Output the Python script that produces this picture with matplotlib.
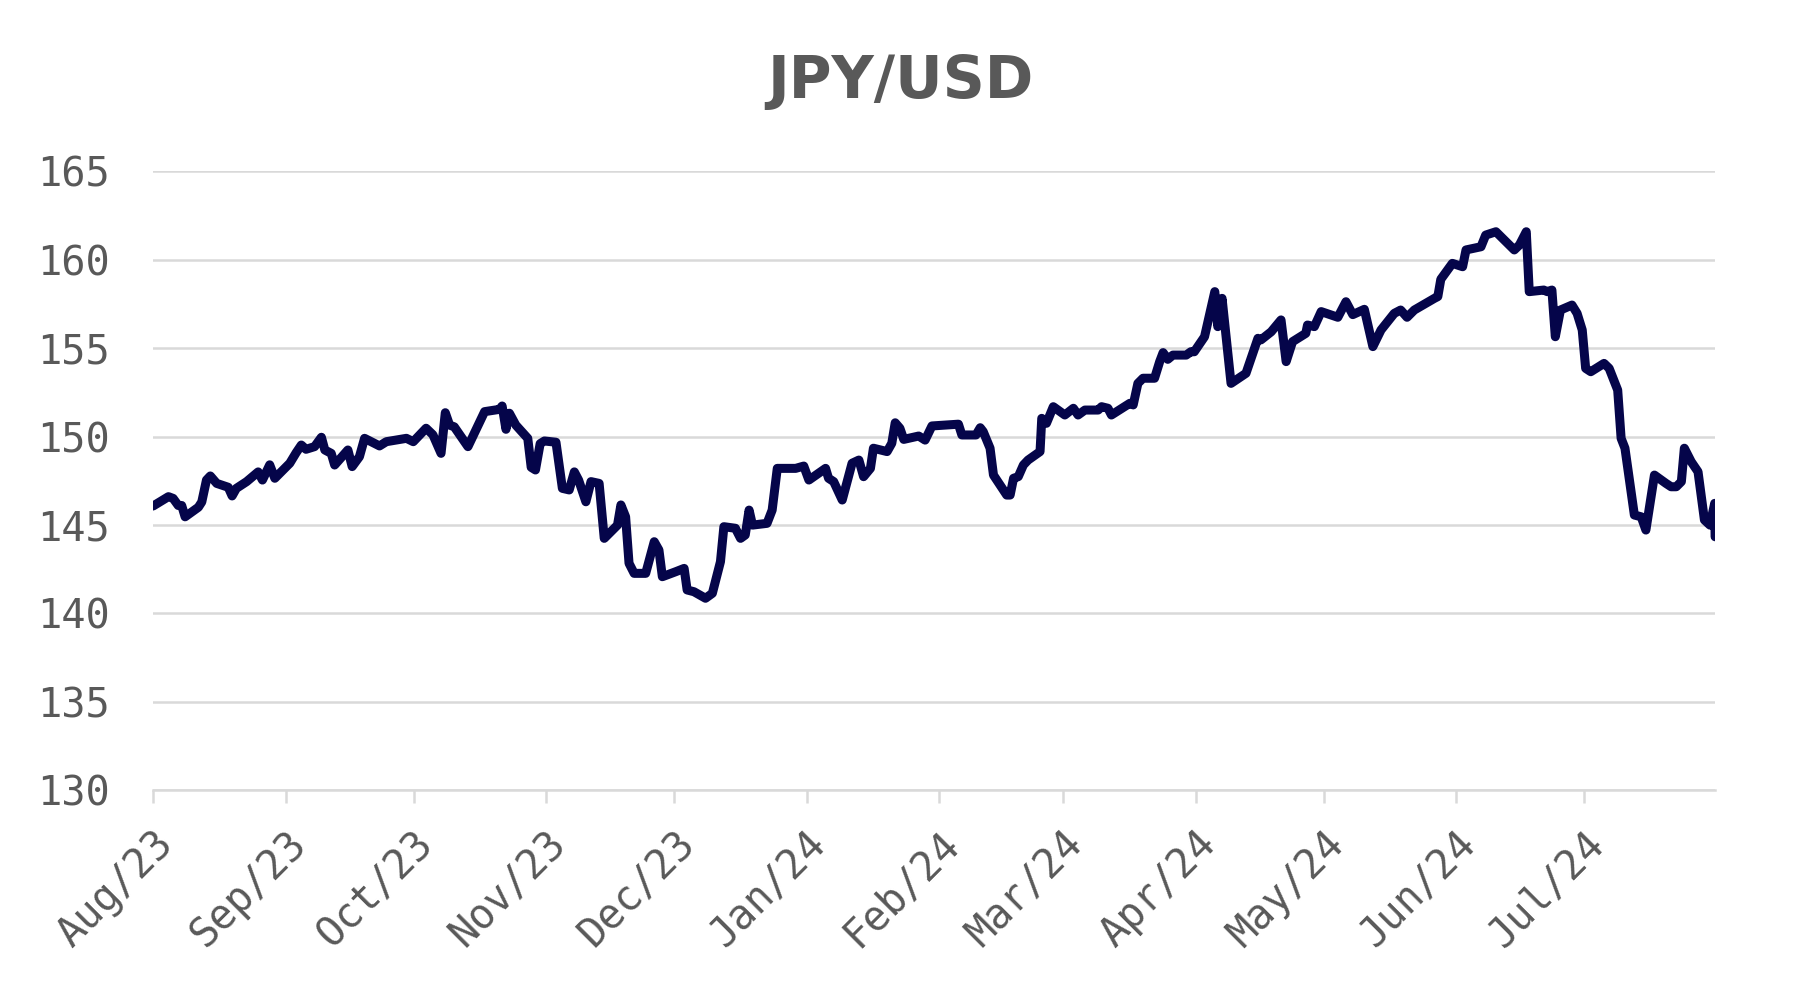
import matplotlib
matplotlib.use("Agg")
import matplotlib.pyplot as plt
import matplotlib.dates as mdates
import pandas as pd

# JPY/USD (days since 1 Aug 2023, rate)
days = [0, 3.6, 4.7, 5.9, 6.7, 7.5, 10.6, 11.4, 12.5, 13.4, 14.9, 17.6, 18.5, 19.5, 21.9,
        24.6, 25.6, 27.3, 28.5, 32.0, 33.5, 34.7, 35.8, 37.8, 39.4, 40.2, 41.7, 42.5, 45.6,
        46.6, 48.3, 49.5, 53.0, 54.6, 59.3, 60.9, 63.9, 65.5, 67.4, 68.4, 69.4, 70.5, 73.7,
        77.6, 81.1, 81.7, 82.6, 83.4, 84.9, 87.7, 88.5, 89.5, 90.6, 91.6, 94.3, 95.8, 97.4,
        98.6, 99.6, 101.3, 102.5, 104.4, 105.6, 108.7, 109.5, 110.6, 111.4, 112.6, 115.3,
        117.3, 118.4, 119.2, 122.3, 124.3, 125.0, 126.6, 129.3, 130.9, 132.8, 133.6, 136.3,
        137.5, 138.6, 139.5, 140.3, 143.7, 144.9, 146.1, 150.4, 152.3, 153.5, 157.4, 158.1,
        159.3, 161.3, 163.6, 165.2, 166.3, 167.9, 168.6, 171.8, 172.9, 173.7, 174.8, 175.7,
        179.2, 180.7, 182.3, 188.5, 189.3, 192.6, 193.6, 194.3, 195.9, 196.7, 199.8, 200.6,
        201.4, 202.5, 203.7, 204.8, 207.6, 208.0, 209.1, 210.7, 213.4, 215.4, 216.5, 218.1,
        221.2, 222.0, 223.5, 224.3, 228.6, 229.4, 230.5, 231.7, 234.4, 235.6, 236.4, 237.5,
        238.7, 241.8, 242.9, 243.7, 246.1, 248.5, 249.2, 250.2, 252.3, 255.8, 258.6, 259.3,
        261.7, 264.0, 265.2, 266.7, 269.8, 270.2, 271.8, 273.4, 277.3, 279.2, 280.8, 283.5,
        285.5, 287.4, 290.5, 292.0, 293.5, 295.2, 299.9, 300.7, 301.4, 304.1, 306.5, 307.3,
        310.8, 311.9, 314.3, 318.6, 319.8, 321.4, 322.1, 325.5, 326.3, 327.4, 328.2, 329.4,
        332.1, 333.3, 334.5, 335.3, 336.5, 339.6, 340.8, 342.8, 343.6, 344.5, 346.7, 348.3,
        349.4, 351.4, 354.1, 355.3, 356.5, 357.7, 358.4, 360.0, 361.6, 363.1, 364.4, 365.5,
        365.6]
jpy = [146.07, 146.6, 146.5, 146.1, 146.1, 145.46, 146.0, 146.3, 147.54, 147.77, 147.35, 147.13,
       146.64, 147.07, 147.45, 148.0, 147.54, 148.4, 147.64, 148.49, 149.09, 149.52, 149.28,
       149.43, 149.96, 149.24, 149.05, 148.39, 149.24, 148.3, 148.86, 149.9, 149.47, 149.71,
       149.9, 149.71, 150.47, 150.1, 149.05, 151.35, 150.65, 150.55, 149.43, 151.41, 151.54,
       151.73, 150.41, 151.32, 150.65, 149.9, 148.26, 148.11, 149.6, 149.75, 149.68, 147.07,
       146.98, 148.0, 147.54, 146.31, 147.45, 147.35, 144.24, 144.99, 146.13, 145.46, 142.83,
       142.26, 142.26, 144.05, 143.58, 142.07, 142.35, 142.54, 141.32, 141.22, 140.85, 141.13,
       142.92, 144.9, 144.81, 144.24, 144.43, 145.84, 144.99, 145.09, 145.84, 148.2, 148.2,
       148.33, 147.54, 148.2, 147.64, 147.45, 146.41, 148.49, 148.67, 147.73, 148.2, 149.34,
       149.15, 149.62, 150.78, 150.47, 149.84, 150.03, 149.8, 150.6, 150.7, 150.09, 150.09,
       150.5, 150.28, 149.34, 147.82, 146.69, 146.69, 147.64, 147.73, 148.39, 148.67, 149.15,
       151.03, 150.75, 151.69, 151.22, 151.6, 151.22, 151.5, 151.5, 151.69, 151.6, 151.22,
       151.88, 151.79, 153.01, 153.3, 153.3, 154.24, 154.75, 154.37, 154.61, 154.61, 154.8,
       154.8, 155.65, 158.2, 156.22, 157.82, 153.01, 153.58, 155.56, 155.47, 155.93, 156.6,
       154.24, 155.37, 155.84, 156.31, 156.22, 157.07, 156.75, 157.63, 156.9, 157.2, 155.09,
       156.03, 156.97, 157.16, 156.75, 157.16, 157.82, 157.92, 158.9, 159.8, 159.61, 160.56,
       160.74, 161.4, 161.59, 160.56, 160.84, 161.59, 158.2, 158.29, 158.2, 158.29, 155.65,
       157.16, 157.44, 156.97, 156.03, 153.86, 153.67, 154.14, 153.86, 152.63, 149.9, 149.34,
       145.56, 145.46, 144.71, 147.82, 147.35, 147.16, 147.16, 147.45, 149.34, 148.58, 148.01,
       145.28, 144.99, 146.22, 144.33]

y_ticks = [130, 135, 140, 145, 150, 155, 160, 165]

start = pd.Timestamp("2023-08-01")
dates = start + pd.to_timedelta(days, unit="D")
month_ticks = pd.date_range("2023-08-01", "2024-07-01", freq="MS")

grey_txt = "#595959"
grid_col = "#d9d9d9"
navy = "#05054a"

fig = plt.figure(figsize=(18.05, 9.9), dpi=100)
ax = fig.add_axes([0.0848, 0.202, 0.8654, 0.6248])

ax.plot(dates, jpy, color=navy, lw=6.5, solid_joinstyle="round", solid_capstyle="round",
        zorder=3)

ax.set_ylim(130, 165)
ax.set_yticks(y_ticks)
ax.set_xlim(start, start + pd.Timedelta(days=365.6))
ax.set_xticks(month_ticks)
ax.xaxis.set_major_formatter(mdates.DateFormatter("%b/%y"))

ax.grid(axis="y", color=grid_col, lw=1.8, zorder=0)
for s in ["top", "right", "left"]:
    ax.spines[s].set_visible(False)
ax.spines["bottom"].set_color(grid_col)
ax.spines["bottom"].set_linewidth(1.8)

ax.tick_params(axis="y", length=0, pad=31, labelsize=29, labelcolor=grey_txt)
ax.tick_params(axis="x", length=9.5, width=1.8, color=grid_col, pad=15,
               labelsize=29, labelcolor=grey_txt)
for lab in ax.get_yticklabels() + ax.get_xticklabels():
    lab.set_family("DejaVu Sans Mono")
for lab in ax.get_xticklabels():
    lab.set_rotation(45)
    lab.set_ha("right")
    lab.set_va("top")
    lab.set_rotation_mode("anchor")

fig.text(0.499, 0.918, "JPY/USD", ha="center", va="center", fontsize=42,
         fontweight="bold", color=grey_txt, family="DejaVu Sans")

fig.savefig("out.png", dpi=100)
